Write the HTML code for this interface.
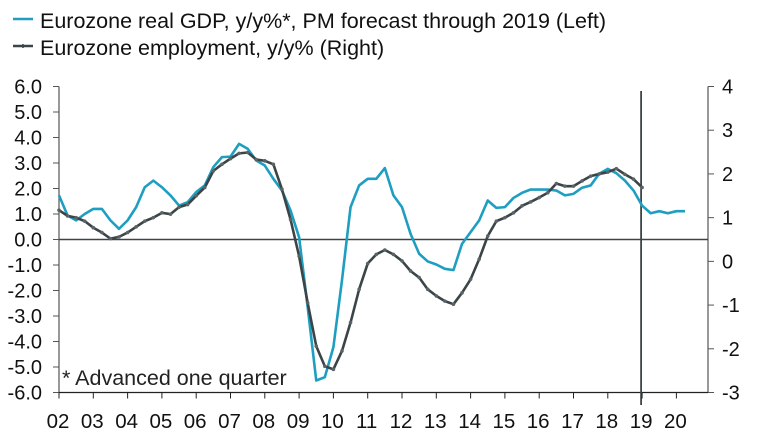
<!DOCTYPE html>
<html><head><meta charset="utf-8"><style>
html,body{margin:0;padding:0;background:#fff;}
svg{display:block;font-family:"Liberation Sans",sans-serif;}
</style></head><body>
<svg id="chart" width="760" height="441" viewBox="0 0 760 441">
<g id="legend">
<line x1="13" y1="19" x2="33" y2="19" stroke="#1e9ec0" stroke-width="2.5"/>
<text x="40" y="28" font-size="21.5" fill="#111">Eurozone real GDP, y/y%*,  PM forecast through 2019 (Left)</text>
<line x1="13" y1="46" x2="33" y2="46" stroke="#3b4548" stroke-width="2.5"/>
<line x1="23" y1="44" x2="23" y2="48" stroke="#3b4548" stroke-width="1.5"/>
<text x="40" y="55" font-size="21.5" fill="#111">Eurozone employment, y/y% (Right)</text>
</g>
<g id="axes"></g>
<g id="series"></g>
<text x="62" y="385" font-size="21.5" fill="#222">* Advanced one quarter</text>
</svg>
<script>
const gdpValues=[1.73,0.94,0.75,1.0,1.2,1.2,0.75,0.42,0.75,1.27,2.05,2.31,2.05,1.73,1.33,1.46,1.86,2.12,2.84,3.23,3.25,3.75,3.56,3.1,2.9,2.38,1.92,1.14,0.09,-2.65,-5.53,-5.4,-4.22,-1.6,1.27,2.12,2.38,2.38,2.8,1.73,1.27,0.22,-0.56,-0.86,-0.98,-1.15,-1.2,-0.17,0.29,0.75,1.53,1.24,1.27,1.63,1.83,1.96,1.96,1.96,1.92,1.73,1.79,2.03,2.12,2.58,2.77,2.6,2.31,1.92,1.33,1.03,1.11,1.03,1.11,1.11];
const employmentValues=[1.17,1.04,1.0,0.92,0.77,0.66,0.52,0.56,0.66,0.79,0.92,1.0,1.11,1.08,1.24,1.3,1.5,1.69,2.07,2.22,2.35,2.47,2.49,2.33,2.3,2.22,1.65,0.96,0.12,-0.95,-1.94,-2.4,-2.47,-2.05,-1.4,-0.64,-0.05,0.16,0.26,0.16,0.01,-0.22,-0.37,-0.64,-0.79,-0.91,-0.98,-0.72,-0.41,0.05,0.58,0.92,1.0,1.11,1.27,1.36,1.46,1.57,1.78,1.72,1.72,1.84,1.95,2.0,2.04,2.12,1.99,1.88,1.69];
const yearLabels=["02","03","04","05","06","07","08","09","10","11","12","13","14","15","16","17","18","19","20"];
const leftTicks=[6,5,4,3,2,1,0,-1,-2,-3,-4,-5,-6];
const rightTicks=[4,3,2,1,0,-1,-2,-3];
const startYear=2002, forecastYear=2019;

const NS="http://www.w3.org/2000/svg";
const X0=59,X1=708,YT=86.5,YB=392.5;
const yearW=34.3;
const xYear=y=>X0+(y-startYear)*yearW;
const xQ=i=>X0+i*yearW/4;
const yL=v=>YT+(6-v)*(YB-YT)/12;
const yR=v=>YT+(4-v)*(YB-YT)/7;
function mk(tag,attrs,parent){const e=document.createElementNS(NS,tag);for(const k in attrs)e.setAttribute(k,attrs[k]);parent.appendChild(e);return e;}
const axes=document.getElementById('axes'),series=document.getElementById('series');
const ax='#555';
let e;
e=mk('line',{x1:X0,y1:YT,x2:X0,y2:YB,stroke:ax,'stroke-width':1.2},axes);


e=mk('line',{x1:X1,y1:YT,x2:X1,y2:YB,stroke:ax,'stroke-width':1.2},axes);


e=mk('line',{x1:X0,y1:YB,x2:X1,y2:YB,stroke:'#222','stroke-width':1.2},axes);


e=mk('line',{x1:X0,y1:yL(0),x2:X1,y2:yL(0),stroke:'#3b4548','stroke-width':1.5},axes);


e=mk('line',{x1:xYear(forecastYear)-1,y1:91,x2:xYear(forecastYear)-1,y2:405,stroke:'#3b4548','stroke-width':1.8},axes);


leftTicks.forEach(v=>{
  mk('line',{x1:X0-6,y1:yL(v),x2:X0,y2:yL(v),stroke:ax,'stroke-width':1},axes);
  const t=mk('text',{x:42,y:yL(v)+7,'text-anchor':'end','font-size':20,fill:'#111'},axes);
  t.textContent=v.toFixed(1);
  
  
});
rightTicks.forEach(v=>{
  mk('line',{x1:X1,y1:yR(v),x2:X1+6,y2:yR(v),stroke:ax,'stroke-width':1},axes);
  const t=mk('text',{x:722,y:yR(v)+7,'font-size':20,fill:'#111'},axes);
  t.textContent=String(v);
  
  
});
yearLabels.forEach((l,i)=>{
  const x=xYear(startYear+i);
  mk('line',{x1:x,y1:YB,x2:x,y2:YB+6,stroke:'#222','stroke-width':1},axes);
  const t=mk('text',{x:x-1,y:428,'text-anchor':'middle','font-size':20.5,fill:'#111'},axes);
  t.textContent=l;
  
  
});
const gp=mk('polyline',{points:gdpValues.map((v,i)=>xQ(i)+','+yL(v)).join(' '),fill:'none',stroke:'#1e9ec0','stroke-width':2.6,'stroke-linejoin':'round'},series);


const ep=mk('polyline',{points:employmentValues.map((v,i)=>xQ(i)+','+yR(v)).join(' '),fill:'none',stroke:'#3b4548','stroke-width':2.6,'stroke-linejoin':'round'},series);


employmentValues.forEach((v,i)=>{
  const c=mk('circle',{cx:xQ(i),cy:yR(v),r:1.8,fill:'#5a6466'},series);
  
  
});
</script>
</body></html>
